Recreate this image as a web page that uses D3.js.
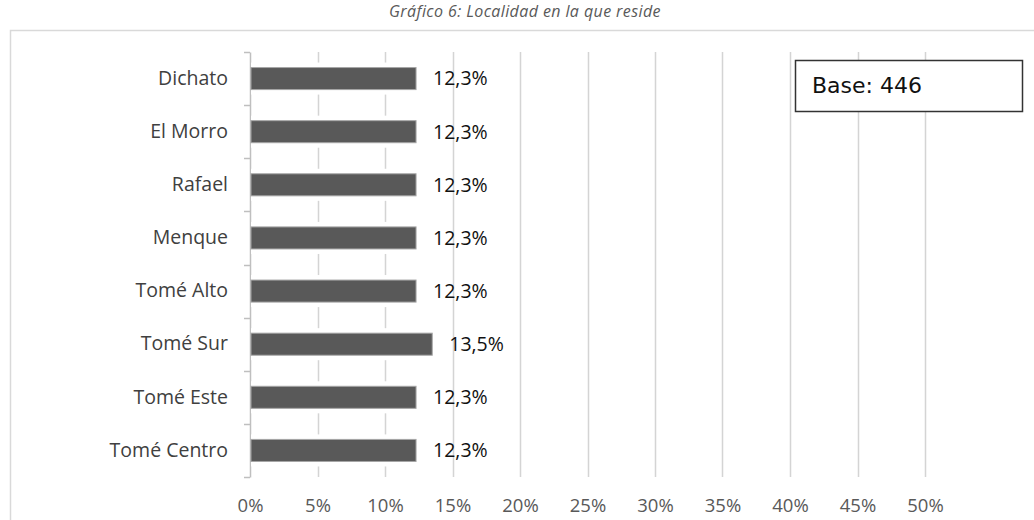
<!DOCTYPE html>
<html>
<head>
<meta charset="utf-8">
<script src="https://cdn.jsdelivr.net/npm/d3@7"></script>
<style>
	body { margin: 0; background: #fff; }
	svg text { font-family: "Open Sans", sans-serif; }
</style>
</head>
<body>
<svg id="chart" width="1034" height="520"></svg>
<script>
// localidades, de arriba hacia abajo
var categories = ["Dichato", "El Morro", "Rafael", "Menque", "Tomé Alto", "Tomé Sur", "Tomé Este", "Tomé Centro"];
var values = [12.3, 12.3, 12.3, 12.3, 12.3, 13.5, 12.3, 12.3];
var tickValues = [0, 5, 10, 15, 20, 25, 30, 35, 40, 45, 50];
var title = "Gráfico 6: Localidad en la que reside";
var baseLabel = "Base: 446";

var svg = d3.select("#chart"),
	margin = {top: 52, left: 250},
	width = 675,
	height = 425;

// marco del gráfico
svg.append("path")
	.attr("d", "M10.5,520V30.5H1034")
	.attr("fill", "none")
	.attr("stroke", "#d9d9d9")
	.attr("stroke-width", 1.5);

svg.append("text")
	.attr("x", 525)
	.attr("y", 17)
	.attr("text-anchor", "middle")
	.style("font-style", "italic")
	.style("font-size", "16px")
	.style("letter-spacing", "0.4px")
	.style("fill", "#595959")
	.text(title);

var g = svg.append("g").attr("transform", "translate(" + margin.left + "," + margin.top + ")");

var x = d3.scaleLinear()
	.domain([0, 50])
	.range([0, width]);

var y = d3.scaleBand()
	.domain(categories)
	.range([0, height])
	.paddingInner(0.585)
	.paddingOuter(0.2925);

// grilla vertical
g.append("g")
	.selectAll("line")
	.data(tickValues.slice(1))
	.enter().append("line")
	.attr("x1", function(d) { return Math.round(x(d)) + 0.5; })
	.attr("x2", function(d) { return Math.round(x(d)) + 0.5; })
	.attr("y1", 0)
	.attr("y2", height)
	.attr("stroke", "#d4d4d4")
	.attr("stroke-width", 1.5);

// eje x (solo etiquetas)
var xAxis = g.append("g")
	.attr("transform", "translate(0," + height + ")")
	.call(d3.axisBottom(x).tickValues(tickValues).tickSize(0).tickPadding(22).tickFormat(function(d) { return d + "%"; }));
xAxis.select(".domain").remove();
xAxis.selectAll("text")
	.style("font-size", "18.5px")
	.style("font-family", "Open Sans, sans-serif")
	.style("fill", "#595959");

// eje y
var step = y.step();
var yAxis = g.append("g")
	.call(d3.axisLeft(y).tickSize(0).tickPadding(22));
yAxis.select(".domain")
	.attr("stroke", "#bfbfbf")
	.attr("stroke-width", 1.5);
yAxis.selectAll("text")
	.style("font-size", "19.5px")
	.style("font-family", "Open Sans, sans-serif")
	.style("fill", "#404040");

// marcas entre categorías
g.append("g")
	.selectAll("line")
	.data(d3.range(categories.length + 1))
	.enter().append("line")
	.attr("x1", -6)
	.attr("x2", 0)
	.attr("y1", function(d) { return Math.round(d * step) + 0.5; })
	.attr("y2", function(d) { return Math.round(d * step) + 0.5; })
	.attr("stroke", "#bfbfbf")
	.attr("stroke-width", 1.5);

var rows = g.append("g")
	.selectAll("g")
	.data(categories)
	.enter().append("g");

// hueco blanco alrededor de las barras
rows.append("rect")
	.attr("x", 1)
	.attr("y", function(d) { return y(d) - 5; })
	.attr("width", function(d, i) { return x(values[i]); })
	.attr("height", y.bandwidth() + 10)
	.attr("fill", "#fff");

rows.append("rect")
	.attr("x", 1)
	.attr("y", function(d) { return y(d); })
	.attr("width", function(d, i) { return x(values[i]) - 1; })
	.attr("height", y.bandwidth())
	.attr("fill", "#595959")
	.attr("stroke", "#a6a6a6")
	.attr("stroke-width", 1);

rows.append("text")
	.attr("x", function(d, i) { return x(values[i]) + 17; })
	.attr("y", function(d) { return y(d) + y.bandwidth() / 2; })
	.attr("dy", "0.35em")
	.style("font-size", "19.5px")
	.style("fill", "#111")
	.text(function(d, i) { return d3.format(".1f")(values[i]).replace(".", ",") + "%"; });

// recuadro de base
svg.append("rect")
	.attr("x", 795.5)
	.attr("y", 60.5)
	.attr("width", 227)
	.attr("height", 51)
	.attr("fill", "#fff")
	.attr("stroke", "#333")
	.attr("stroke-width", 1.5);

svg.append("text")
	.attr("x", 812)
	.attr("y", 93)
	.style("font-family", "DejaVu Sans, sans-serif")
	.style("font-size", "22px")
	.style("fill", "#111")
	.text(baseLabel);
</script>
</body>
</html>
